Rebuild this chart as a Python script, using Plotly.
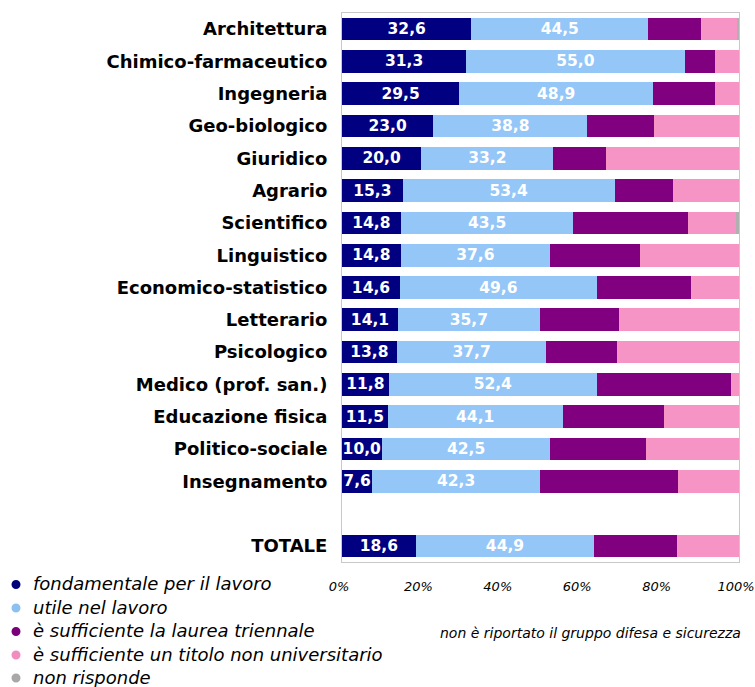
import plotly.graph_objects as go

categories = ["Architettura", "Chimico-farmaceutico", "Ingegneria", "Geo-biologico",
              "Giuridico", "Agrario", "Scientifico", "Linguistico",
              "Economico-statistico", "Letterario", "Psicologico",
              "Medico (prof. san.)", "Educazione fisica", "Politico-sociale",
              "Insegnamento", "TOTALE"]
fondamentale = [32.6, 31.3, 29.5, 23.0, 20.0, 15.3, 14.8, 14.8, 14.6, 14.1, 13.8, 11.8, 11.5, 10.0, 7.6, 18.6]
utile = [44.5, 55.0, 48.9, 38.8, 33.2, 53.4, 43.5, 37.6, 49.6, 35.7, 37.7, 52.4, 44.1, 42.5, 42.3, 44.9]
triennale = [13.3, 7.6, 15.5, 16.7, 13.2, 14.6, 28.8, 22.6, 23.6, 19.9, 17.7, 33.7, 25.4, 24.0, 34.7, 20.8]
non_univ = [9.3, 6.1, 6.1, 21.5, 33.6, 16.7, 12.2, 25.0, 12.2, 30.3, 30.8, 2.1, 19.0, 23.5, 15.4, 15.7]
non_risponde = [0.3, 0.0, 0.0, 0.0, 0.0, 0.0, 0.7, 0.0, 0.0, 0.0, 0.0, 0.0, 0.0, 0.0, 0.0, 0.0]

series_names = ["fondamentale per il lavoro", "utile nel lavoro",
                "è sufficiente la laurea triennale",
                "è sufficiente un titolo non universitario", "non risponde"]
series_values = [fondamentale, utile, triennale, non_univ, non_risponde]
colors = ["#000080", "#94c6f7", "#800080", "#f794c6", "#b0b0b0"]
legend_colors = ["#00007a", "#8cc0f0", "#7a007a", "#f08cc0", "#a8a8a8"]

tick_vals = [0, 20, 40, 60, 80, 100]
tick_text = ["0%", "20%", "40%", "60%", "80%", "100%"]

category_order = categories[:-1] + [" "] + categories[-1:]

W, H = 755, 687
ML, MR, MT, MB = 342, 16, 13, 125
PW, PH = W - ML - MR, H - MT - MB


def px_x(p):
    return (p - ML) / PW


def px_y(p):
    return (H - MB - p) / PH


fig = go.Figure()
for i, (name, vals, col) in enumerate(zip(series_names, series_values, colors)):
    show_text = i < 2
    fig.add_trace(go.Bar(
        y=categories, x=vals, orientation="h", name=name,
        marker=dict(color=col, line=dict(width=0)),
        text=vals if show_text else None,
        texttemplate="%{x:.1f}" if show_text else None,
        textposition="inside" if show_text else "none",
        insidetextanchor="middle",
        textfont=dict(family="DejaVu Sans", size=15.5, color="white", weight="bold"),
        constraintext="none",
        showlegend=False, hoverinfo="skip",
    ))

annotations = []
shapes = []
legend_y = [583.5, 607, 630.5, 654, 677]
for name, col, ly in zip(series_names, legend_colors, legend_y):
    annotations.append(dict(
        text=name, xref="paper", yref="paper", x=px_x(31), y=px_y(ly),
        xanchor="left", yanchor="middle", showarrow=False,
        font=dict(family="DejaVu Sans", size=18, style="italic", color="black"),
    ))
    r = 4.5
    shapes.append(dict(
        type="circle", xref="paper", yref="paper",
        x0=px_x(16 - r), x1=px_x(16 + r), y0=px_y(ly + 1 + r), y1=px_y(ly + 1 - r),
        fillcolor=col, line=dict(width=0),
    ))

annotations.append(dict(
    text="non è riportato il gruppo difesa e sicurezza",
    xref="paper", yref="paper", x=px_x(590), y=px_y(633),
    xanchor="center", yanchor="middle", showarrow=False,
    font=dict(family="DejaVu Sans", size=14, style="italic", color="black"),
))

fig.update_layout(
    barmode="stack",
    bargap=0.3,
    width=W, height=H,
    margin=dict(l=ML, r=MR, t=MT, b=MB, autoexpand=False),
    plot_bgcolor="white", paper_bgcolor="white",
    separators=",.",
    font=dict(family="DejaVu Sans", color="black"),
    showlegend=False,
    annotations=annotations,
    shapes=shapes,
)
fig.update_xaxes(
    range=[0, 100], tickvals=tick_vals, ticktext=tick_text,
    showgrid=False, zeroline=False, automargin=False,
    showline=True, mirror=True, linecolor="#c8c8c8", linewidth=1,
    tickfont=dict(family="DejaVu Sans", size=13, style="italic", color="black"),
    ticks="", ticklabelstandoff=12, ticklabelshift=-3, ticklabeloverflow="allow",
)
fig.update_yaxes(
    type="category", categoryorder="array", categoryarray=category_order,
    autorange="reversed",
    showgrid=False, zeroline=False, automargin=False,
    showline=True, mirror=True, linecolor="#c8c8c8", linewidth=1,
    tickfont=dict(family="DejaVu Sans", size=18, weight="bold", color="black"),
    ticks="", ticklabelstandoff=10,
)

fig.write_html("out.html",
               config={"displayModeBar": False},
               post_script="document.body.style.margin='0';document.body.style.overflow='hidden';")
